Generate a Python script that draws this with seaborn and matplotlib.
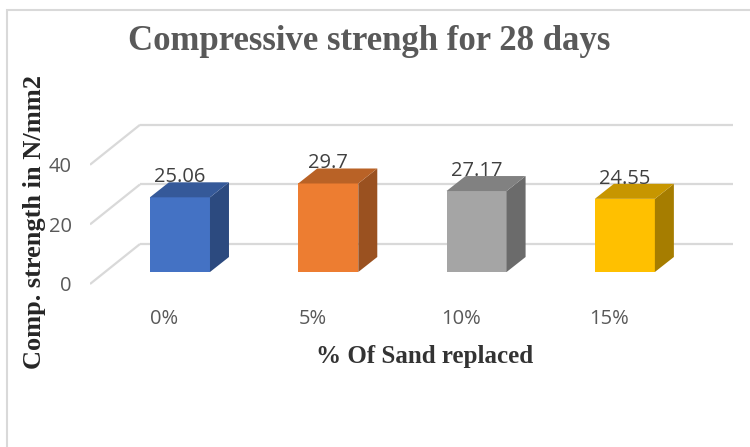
import numpy as np
import matplotlib
matplotlib.use("Agg")
import matplotlib.pyplot as plt
import matplotlib.colors as mcolors
from matplotlib.patches import Rectangle
import seaborn as sns

# データ
categories = ["0%", "5%", "10%", "15%"]
strength = [25.06, 29.7, 27.17, 24.55]
y_ticks = [0, 20, 40]

# 色 (Excel標準)
bar_colors = ["#4472C4", "#ED7D31", "#A5A5A5", "#FFC000"]
grid_color = "#d9d9d9"

sns.set_style("white")
plt.rcParams['font.family'] = ['Open Sans', 'DejaVu Sans']
serif = ['Liberation Serif', 'DejaVu Serif']

W, H = 750, 447
PX_CAT = 148.3   # 1カテゴリあたりのピクセル
PX_VAL = 2.98    # 値1あたりのピクセル

# 奥行き (データ単位)
WALL_DX, WALL_DY = 50 / PX_CAT, 40 / PX_VAL
BAR_DX0, BAR_DY0 = 15.8 / PX_CAT, 12 / PX_VAL
BAR_DX, BAR_DY = 19 / PX_CAT, 15 / PX_VAL


def shade(color, k):
    r, g, b = mcolors.to_rgb(color)
    return (r * k, g * k, b * k)


def make_axes(fig):
    """前面の0%カテゴリ左端 x=90px, 値0 y=284px になるよう配置"""
    xlim = (-0.5, 3.9)
    ylim = (-2, 56)
    left = 90
    right = left + (xlim[1] - xlim[0]) * PX_CAT
    bottom_px = 284 - ylim[0] * PX_VAL
    top_px = 284 - ylim[1] * PX_VAL
    ax = fig.add_axes([left / W, 1 - bottom_px / H,
                       (right - left) / W, (bottom_px - top_px) / H])
    return ax, xlim, ylim


def main():
    fig = plt.figure(figsize=(W / 100, H / 100), dpi=100)
    ax, xlim, ylim = make_axes(fig)

    # 背面・側面のグリッド
    for v in y_ticks:
        ax.plot([-0.5, -0.5 + WALL_DX], [v, v + WALL_DY],
                color=grid_color, lw=1.6, zorder=1, solid_capstyle='butt')
        ax.plot([-0.5 + WALL_DX, len(categories) - 0.5 + WALL_DX],
                [v + WALL_DY, v + WALL_DY],
                color=grid_color, lw=1.6, zorder=1, solid_capstyle='butt')

    sns.barplot(x=categories, y=strength, hue=categories, palette=bar_colors,
                order=categories, hue_order=categories, legend=False,
                width=0.405, saturation=1, linewidth=0, ax=ax, zorder=3)

    # 3D風の側面と上面
    for i, p in enumerate(ax.patches):
        p.set_x(p.get_x() + BAR_DX0)
        p.set_y(p.get_y() + BAR_DY0)
        x0, w = p.get_x(), p.get_width()
        y0, h = p.get_y(), p.get_height()
        x1, y1 = x0 + w, y0 + h
        ax.fill([x1, x1 + BAR_DX, x1 + BAR_DX, x1],
                [y0, y0 + BAR_DY, y1 + BAR_DY, y1],
                color=shade(bar_colors[i], 0.65), lw=0, zorder=3)
        ax.fill([x0, x1, x1 + BAR_DX, x0 + BAR_DX],
                [y1, y1, y1 + BAR_DY, y1 + BAR_DY],
                color=shade(bar_colors[i], 0.78), lw=0, zorder=3)
        ax.text(x0 + w / 2, y1 + BAR_DY - 1.6, str(strength[i]),
                ha='center', va='bottom', fontsize=14.5, color='#404040', zorder=5)

    ax.set_xlim(*xlim)
    ax.set_ylim(*ylim)
    ax.set_yticks(y_ticks)
    ax.set_xlabel("")
    ax.set_ylabel("")
    ax.tick_params(axis='y', length=0, pad=13, labelsize=14.5, labelcolor='#595959')
    ax.tick_params(axis='x', length=0, pad=14, labelsize=14.5, labelcolor='#595959')
    for s in ax.spines.values():
        s.set_visible(False)
    ax.set_facecolor('none')

    # タイトル・軸ラベル
    fig.text(369 / W, 1 - 41 / H, "Compressive strengh for 28 days",
             ha='center', va='center', fontsize=25, fontweight='bold',
             family=serif, color='#595959')
    fig.text(35 / W, 1 - 222 / H, "Comp. strength in N/mm2", rotation=90,
             ha='center', va='center', fontsize=19, fontweight='bold',
             family=serif, color='#262626')
    fig.text(425 / W, 1 - 357 / H, "% Of Sand replaced",
             ha='center', va='center', fontsize=18, fontweight='bold',
             family=serif, color='#333333')

    # グラフエリアの枠 (右・下は切れている)
    fig.patches.append(Rectangle((7 / W, -0.1), 1.2, 1.1 - 10 / H,
                                 transform=fig.transFigure, fill=False,
                                 edgecolor=grid_color, lw=1.5))

    fig.savefig("out.png", dpi=100)
    plt.close(fig)


if __name__ == "__main__":
    main()
